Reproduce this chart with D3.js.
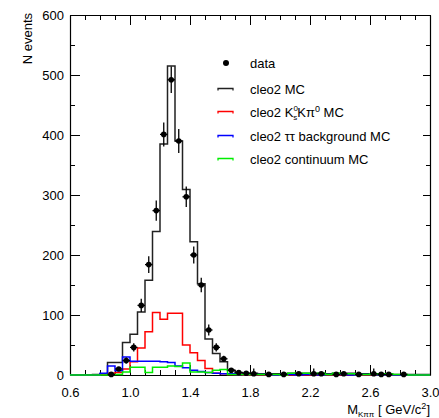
<!DOCTYPE html>
<html>
<head>
<meta charset="utf-8">
<script src="https://cdn.jsdelivr.net/npm/d3@7"></script>
<style>
  body { margin: 0; background: #fff; }
  svg { display: block; }
  text { font-family: "Liberation Sans", Arial, Helvetica, sans-serif; fill: #000; }
</style>
</head>
<body>
<svg id="chart" width="439" height="418"></svg>
<script>
// Invariant mass histograms, 48 bins of 0.05 GeV/c^2 from 0.6 to 3.0
const binLowEdges = d3.range(48).map(i => +(0.6 + 0.05 * i).toFixed(2));
const binWidth = 0.05;

// Total signal + background MC
const mcTotal = [0, 0, 0, 1, 2, 21, 21, 54, 68, 105, 158, 239, 385, 515, 390, 309,
  222, 152, 60, 36, 22, 8, 4, 3, 3, 2, 2, 2, 2, 3, 3, 3,
  3, 3, 2, 3, 3, 3, 2, 2, 2, 2, 2, 1, 1, 1, 1, 1];

// K_s K pi0 MC
const mcKsKpi = [0, 0, 0, 0, 1, 3, 4, 10, 22, 45, 72, 104, 93, 103, 103, 50,
  37, 24, 11, 3, 2, 1, 1, 0, 0, 0, 0, 0, 0, 0, 0, 0,
  0, 0, 0, 0, 0, 0, 0, 0, 0, 0, 0, 0, 0, 0, 0, 0];

// tau tau background MC
const mcTauTau = [0, 0, 0, 0, 3, 15, 7, 30, 23, 23, 23, 23, 22, 21, 15, 12,
  8, 6, 4, 3, 2, 2, 1, 1, 1, 1, 1, 0, 1, 1, 0, 1,
  1, 0, 1, 1, 1, 0, 1, 1, 1, 0, 1, 0, 0, 0, 0, 0];

// continuum MC
const mcContinuum = [0, 0, 0, 0, 0, 1, 1, 5, 13, 13, 4, 13, 13, 15, 14, 20,
  5, 5, 4, 8, 9, 1, 1, 1, 1, 1, 1, 1, 0, 3, 3, 3,
  2, 3, 1, 3, 2, 2, 1, 1, 2, 1, 2, 1, 1, 0, 0, 0];

// Data counts (null = empty bin) and their errors
const dataCounts = [null, null, null, null, null, 1, 10, 24, 46, 116, 184, 274, 401, 492, 390, 297,
  200, 150, 75, 46, 27, 8, 4, 3, 2, null, 1, null, 1, null, 2, null,
  2, 2, null, 1, 2, null, 1, null, 2, 1, 1, null, 1, null, null, null];
const dataErrors = [0, 0, 0, 0, 0, 1, 3, 5, 7, 11, 14, 17, 20, 22, 20, 17,
  14, 12, 9, 7, 5, 3, 2, 2, 9, 0, 4, 0, 4, 0, 3, 0,
  9, 3, 0, 3, 3, 0, 4, 0, 9, 3, 3, 0, 3, 0, 0, 0];

const xMajorTicks = [0.6, 1.0, 1.4, 1.8, 2.2, 2.6, 3.0];
const yMajorTicks = [0, 100, 200, 300, 400, 500, 600];

const legendItems = [
  { key: "data", color: "#000" },
  { key: "mc", color: "#222", label: "cleo2 MC" },
  { key: "kskpi", color: "#ff0000" },
  { key: "tautau", color: "#0000ff", label: "cleo2 \u03c4\u03c4 background MC" },
  { key: "cont", color: "#00ee00", label: "cleo2 continuum MC" }
];

(function draw() {
  const svg = d3.select("#chart");
  const frame = { left: 70, right: 430, top: 15, bottom: 375 };

  const x = d3.scaleLinear().domain([0.6, 3.0]).range([frame.left, frame.right]);
  const y = d3.scaleLinear().domain([0, 600]).range([frame.bottom, frame.top]);

  // ---- axes and frame ----
  const minorX = d3.range(0.6, 3.0001, 0.1).map(v => +v.toFixed(2));
  const minorY = d3.range(0, 600.1, 50);

  function styleAxis(g) {
    g.selectAll("path.domain").attr("stroke", "#000").attr("stroke-width", 1.2);
    g.selectAll(".tick line").attr("stroke", "#000").attr("stroke-width", 1);
    g.selectAll(".tick text").attr("font-size", 13);
  }

  // bottom
  svg.append("g").attr("transform", `translate(0,${frame.bottom})`)
    .call(d3.axisBottom(x).tickValues(minorX).tickSize(-5).tickFormat(""))
    .call(g => g.select(".domain").remove())
    .call(styleAxis);
  svg.append("g").attr("transform", `translate(0,${frame.bottom})`)
    .call(d3.axisBottom(x).tickValues(xMajorTicks).tickSize(-10).tickSizeOuter(0)
      .tickPadding(13).tickFormat(d3.format(".1f")))
    .call(styleAxis);
  // top
  svg.append("g").attr("transform", `translate(0,${frame.top})`)
    .call(d3.axisTop(x).tickValues(minorX).tickSize(-5).tickFormat(""))
    .call(g => g.select(".domain").remove())
    .call(styleAxis);
  svg.append("g").attr("transform", `translate(0,${frame.top})`)
    .call(d3.axisTop(x).tickValues(xMajorTicks).tickSize(-10).tickSizeOuter(0).tickFormat(""))
    .call(styleAxis);
  // left
  svg.append("g").attr("transform", `translate(${frame.left},0)`)
    .call(d3.axisLeft(y).tickValues(minorY).tickSize(-5).tickFormat(""))
    .call(g => g.select(".domain").remove())
    .call(styleAxis);
  svg.append("g").attr("transform", `translate(${frame.left},0)`)
    .call(d3.axisLeft(y).tickValues(yMajorTicks).tickSize(-10).tickSizeOuter(0)
      .tickPadding(6).tickFormat(d3.format("d")))
    .call(styleAxis);
  // right
  svg.append("g").attr("transform", `translate(${frame.right},0)`)
    .call(d3.axisRight(y).tickValues(minorY).tickSize(-4).tickFormat(""))
    .call(g => g.select(".domain").remove())
    .call(styleAxis);
  svg.append("g").attr("transform", `translate(${frame.right},0)`)
    .call(d3.axisRight(y).tickValues(yMajorTicks).tickSize(-7).tickSizeOuter(0).tickFormat(""))
    .call(styleAxis);

  // ---- histograms ----
  const stepLine = d3.line()
    .x(d => x(d[0]))
    .y(d => y(d[1]))
    .curve(d3.curveStepAfter);

  function histPoints(values) {
    const p = values.map((v, i) => [binLowEdges[i], v]);
    p.push([binLowEdges[binLowEdges.length - 1] + binWidth, values[values.length - 1]]);
    return p;
  }

  const plot = svg.append("g");
  [[mcTotal, "#222"], [mcKsKpi, "#ff0000"], [mcTauTau, "#0000ff"], [mcContinuum, "#00ee00"]]
    .forEach(([vals, color]) => {
      plot.append("path")
        .attr("d", stepLine(histPoints(vals)))
        .attr("fill", "none")
        .attr("stroke", color)
        .attr("stroke-width", 1.5);
    });

  // ---- data points with error bars ----
  const dataPts = dataCounts.map((v, i) => ({
    c: binLowEdges[i] + binWidth / 2, v, e: dataErrors[i]
  })).filter(d => d.v !== null);

  const pts = plot.append("g");
  pts.selectAll("line.ev").data(dataPts).join("line")
    .attr("class", "ev")
    .attr("x1", d => x(d.c)).attr("x2", d => x(d.c))
    .attr("y1", d => y(Math.max(0, d.v - d.e))).attr("y2", d => y(d.v + d.e))
    .attr("stroke", "#000").attr("stroke-width", 1.3);
  pts.selectAll("line.eh").data(dataPts).join("line")
    .attr("class", "eh")
    .attr("x1", d => x(d.c - binWidth / 2)).attr("x2", d => x(d.c + binWidth / 2))
    .attr("y1", d => y(d.v)).attr("y2", d => y(d.v))
    .attr("stroke", "#000").attr("stroke-width", 1.3);
  pts.selectAll("circle").data(dataPts.filter(d => d.v > 0)).join("circle")
    .attr("cx", d => x(d.c)).attr("cy", d => y(d.v)).attr("r", 2.8)
    .attr("fill", "#000");

  // ---- legend ----
  const legend = svg.append("g");
  const rowY = [63, 89, 112, 136, 159];
  const symX = 226, textX = 250;
  legendItems.forEach((it, i) => {
    const ry = rowY[i];
    if (it.key === "data") {
      legend.append("circle").attr("cx", symX).attr("cy", ry).attr("r", 3).attr("fill", "#000");
    } else {
      legend.append("path")
        .attr("d", `M${symX - 8},${ry + 1.5}V${ry - 0.5}H${symX + 7}V${ry + 1.5}`)
        .attr("fill", "none").attr("stroke", it.color).attr("stroke-width", 1.3);
    }
    const t = legend.append("text").attr("x", textX).attr("y", ry + 4.5).attr("font-size", 13);
    if (it.key === "data") {
      t.text("data");
    } else if (it.key === "kskpi") {
      // K with stacked superscript 0 and subscript s
      t.append("tspan").text("cleo2 K");
      t.append("tspan").attr("font-size", 8).attr("dy", -6).text("0");
      t.append("tspan").attr("font-size", 8).attr("dx", -4.5).attr("dy", 9.5).text("s");
      t.append("tspan").attr("dy", -3.5).text("K\u03c0");
      t.append("tspan").attr("font-size", 9).attr("dy", -5).text("0");
      t.append("tspan").attr("dy", 5).text(" MC");
    } else {
      t.text(it.label);
    }
  });

  // ---- axis titles ----
  svg.append("text")
    .attr("transform", "translate(32,13) rotate(-90)")
    .attr("text-anchor", "end")
    .attr("font-size", 13)
    .text("N events");

  const xt = svg.append("text")
    .attr("x", frame.right).attr("y", 414)
    .attr("text-anchor", "end")
    .attr("font-size", 13);
  xt.append("tspan").text("M");
  xt.append("tspan").attr("font-size", 8).attr("dy", 3).text("K\u03c0\u03c0");
  xt.append("tspan").attr("dy", -3).text(" [ GeV/c");
  xt.append("tspan").attr("font-size", 9).attr("dy", -5).text("2");
  xt.append("tspan").attr("dy", 5).text("]");
})();
</script>
</body>
</html>
